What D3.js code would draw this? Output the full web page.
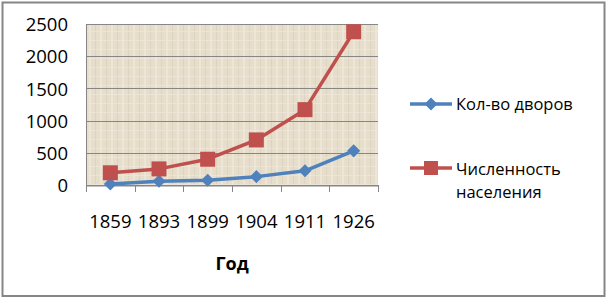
<!DOCTYPE html>
<html>
<head>
<meta charset="utf-8">
<script src="https://cdn.jsdelivr.net/npm/d3@7"></script>
<style>
  body { margin: 0; background: #fff; }
  text { font-family: "Open Sans", "Noto Sans", sans-serif; fill: #000; }
</style>
</head>
<body>
<svg id="chart" width="607" height="298"></svg>
<script>
var years = ["1859", "1893", "1899", "1904", "1911", "1926"];
var dvory = [15, 60, 75, 130, 220, 530];
var naselenie = [190, 250, 400, 700, 1170, 2380];
var yTicks = [0, 500, 1000, 1500, 2000, 2500];
var seriesNames = ["Кол-во дворов", "Численность населения"];

var svg = d3.select("#chart"),
  margin = { top: 24, right: 229, bottom: 113, left: 86 },
  width = +svg.attr("width"),
  height = +svg.attr("height");

// outer frame
svg.append("rect")
  .attr("x", 2.5).attr("y", 2.5)
  .attr("width", 602).attr("height", 293.5)
  .attr("fill", "#fff")
  .attr("stroke", "#868686")
  .attr("stroke-width", 2);

// texture for the plot area
var defs = svg.append("defs");
var pat = defs.append("pattern")
  .attr("id", "tex")
  .attr("patternUnits", "userSpaceOnUse")
  .attr("width", 11).attr("height", 9);
pat.append("rect").attr("width", 11).attr("height", 9).attr("fill", "#e6ddcb");
pat.append("rect").attr("x", 1).attr("width", 2).attr("height", 9).attr("fill", "#ede6d7");
pat.append("rect").attr("x", 7).attr("width", 1).attr("height", 9).attr("fill", "#ddd3c1");
pat.append("rect").attr("y", 4).attr("width", 11).attr("height", 1).attr("fill", "#efe9dc").attr("opacity", 0.7);

var x = d3.scaleBand()
  .domain(years)
  .range([margin.left, width - margin.right]);

var y = d3.scaleLinear()
  .domain([0, 2500])
  .range([height - margin.bottom, margin.top]);

svg.append("rect")
  .attr("x", margin.left)
  .attr("y", margin.top)
  .attr("width", x.range()[1] - margin.left)
  .attr("height", y(0) - margin.top)
  .attr("fill", "url(#tex)");

// gridlines
svg.append("g")
  .selectAll("line")
  .data(yTicks)
  .join("line")
  .attr("x1", margin.left)
  .attr("x2", x.range()[1])
  .attr("y1", (d) => Math.round(y(d)) + 0.5)
  .attr("y2", (d) => Math.round(y(d)) + 0.5)
  .attr("stroke", "#868686")
  .attr("stroke-width", 1);

// y axis
var yAxis = svg.append("g")
  .attr("transform", "translate(" + margin.left + ",0)")
  .call(d3.axisLeft(y).tickValues(yTicks).tickFormat(d3.format("d")).tickSize(0).tickPadding(18));
yAxis.select(".domain").attr("stroke", "#868686");
yAxis.selectAll("text")
  .style("font-size", "18.5px")
  .style("font-family", "'Open Sans', sans-serif")
  .attr("dy", "0.36em");

// x axis
var xAxis = svg.append("g")
  .attr("transform", "translate(0," + (Math.round(y(0)) + 0.5) + ")")
  .call(d3.axisBottom(x).tickSize(0).tickPadding(29));
xAxis.select(".domain").attr("stroke", "#868686");
xAxis.selectAll(".tick text")
  .style("font-size", "18.5px")
  .style("font-family", "'Open Sans', sans-serif");
svg.append("g")
  .selectAll("line")
  .data(years.concat(["end"]))
  .join("line")
  .attr("x1", (d, i) => Math.round(margin.left + i * x.step()) + 0.5)
  .attr("x2", (d, i) => Math.round(margin.left + i * x.step()) + 0.5)
  .attr("y1", y(0))
  .attr("y2", y(0) + 7)
  .attr("stroke", "#868686");

svg.append("text")
  .attr("x", (margin.left + x.range()[1]) / 2)
  .attr("y", 270)
  .attr("text-anchor", "middle")
  .style("font-size", "18px")
  .style("font-weight", "bold")
  .text("Год");

var colors = ["#4f81bd", "#c0504d"];
var data = [dvory, naselenie];

var line = d3.line()
  .x((d, i) => x(years[i]) + x.bandwidth() / 2)
  .y((d) => y(d));

data.forEach(function (vals, k) {
  svg.append("path")
    .datum(vals)
    .attr("d", line)
    .attr("fill", "none")
    .attr("stroke", colors[k])
    .attr("stroke-width", 3.5)
    .attr("stroke-linejoin", "round");
});

var diamond = d3.symbol().type(d3.symbolSquare).size(85);

svg.append("g")
  .selectAll("path")
  .data(dvory)
  .join("path")
  .attr("d", diamond)
  .attr("transform", (d, i) => "translate(" + (x(years[i]) + x.bandwidth() / 2) + "," + y(d) + ") rotate(45)")
  .attr("fill", colors[0]);

svg.append("g")
  .selectAll("rect")
  .data(naselenie)
  .join("rect")
  .attr("x", (d, i) => x(years[i]) + x.bandwidth() / 2 - 7.5)
  .attr("y", (d) => y(d) - 7.5)
  .attr("width", 15)
  .attr("height", 15)
  .attr("fill", colors[1]);

// legend
var lg = svg.append("g");
var legY = [104, 168];
legY.forEach(function (ly, k) {
  lg.append("line")
    .attr("x1", 410).attr("x2", 452)
    .attr("y1", ly).attr("y2", ly)
    .attr("stroke", colors[k])
    .attr("stroke-width", 3.5);
  if (k === 0) {
    lg.append("path")
      .attr("d", diamond)
      .attr("transform", "translate(431," + ly + ") rotate(45)")
      .attr("fill", colors[k]);
  } else {
    lg.append("rect")
      .attr("x", 424).attr("y", ly - 7)
      .attr("width", 14).attr("height", 14)
      .attr("fill", colors[k]);
  }
});
lg.append("text").attr("x", 456).attr("y", 110)
  .style("font-size", "16.5px").text(seriesNames[0]);
var t2 = lg.append("text").attr("x", 456).attr("y", 175).style("font-size", "16.5px");
t2.append("tspan").attr("x", 456).text("Численность");
t2.append("tspan").attr("x", 456).attr("dy", 23).text("населения");
</script>
</body>
</html>
